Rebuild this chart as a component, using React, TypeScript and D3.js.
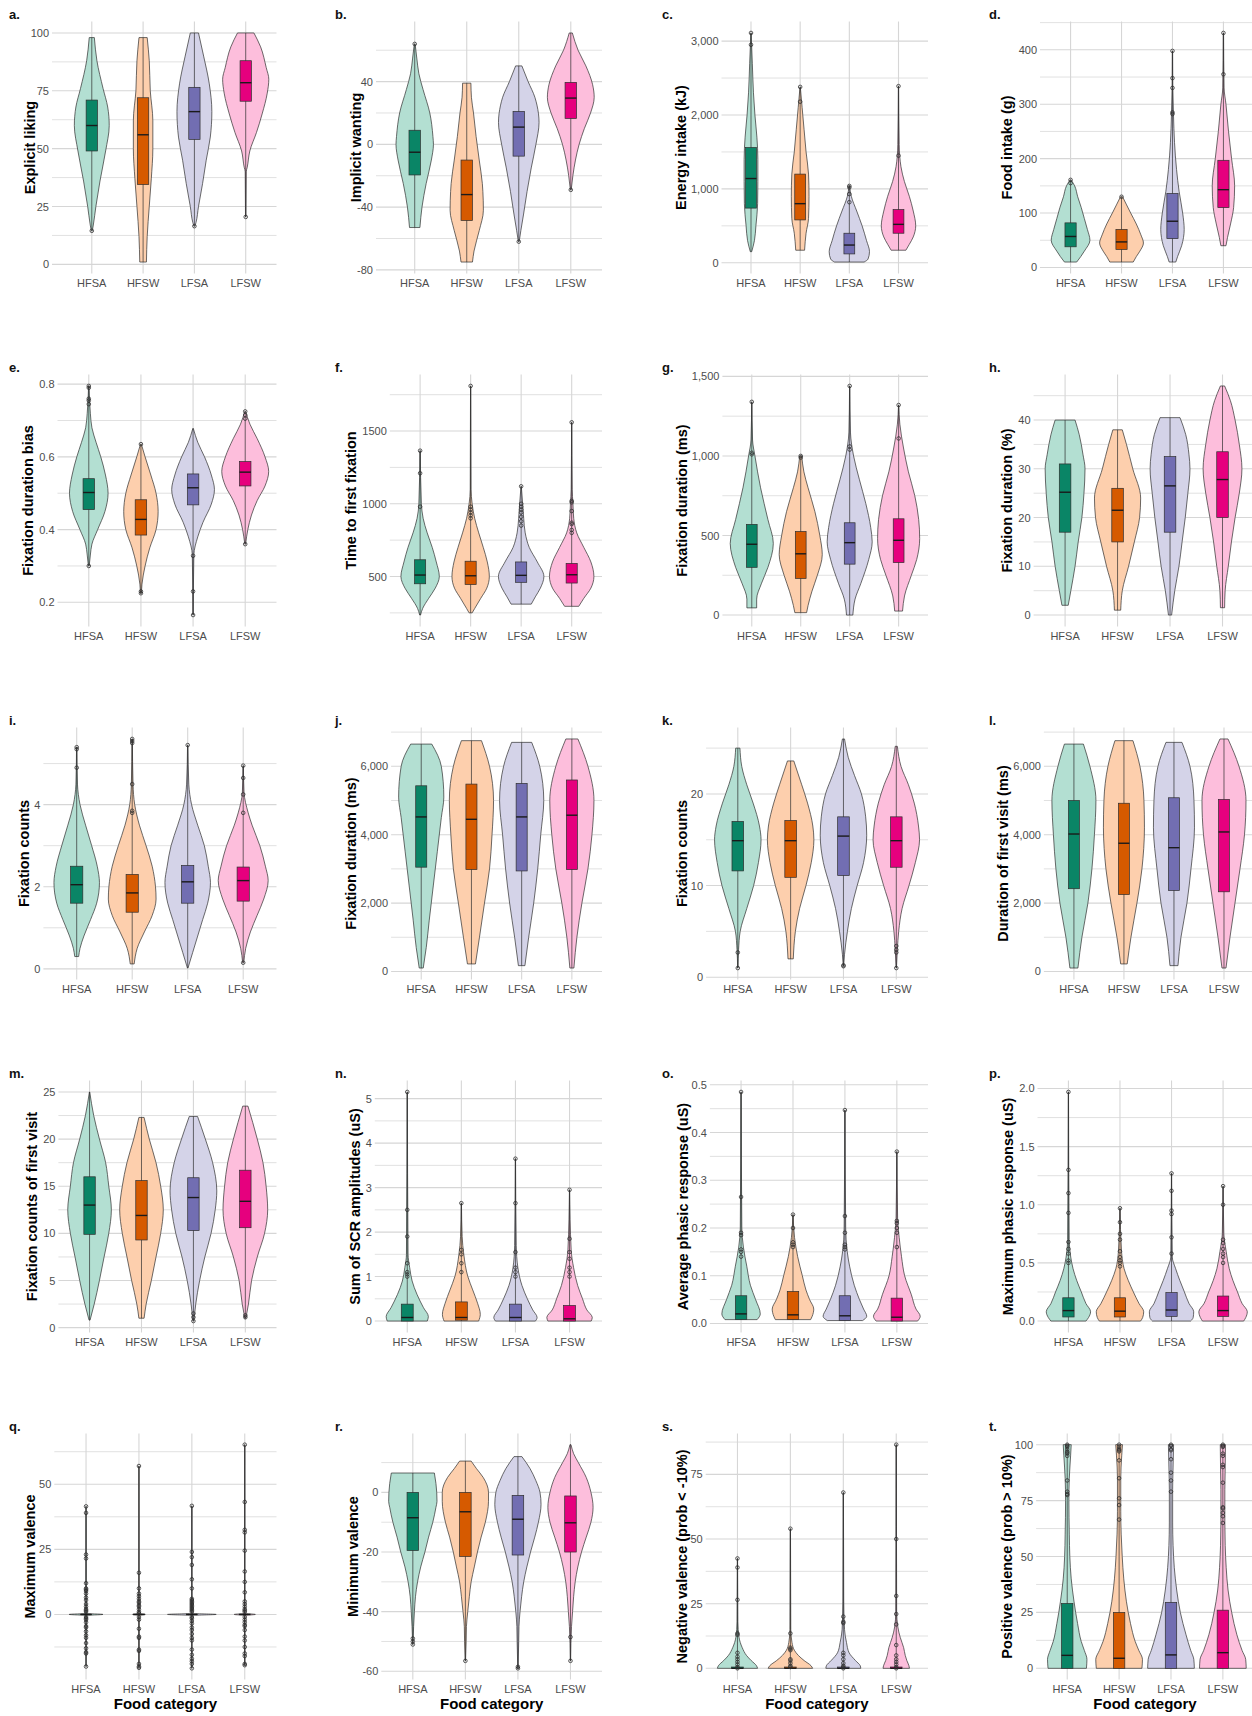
import React, { useRef, useEffect } from 'react';
import * as d3 from 'd3';

// ---- data ----
const categories = ['HFSA', 'HFSW', 'LFSA', 'LFSW'];
const violin_fill = ['#b3dfd2', '#fdcfad', '#d4d3e8', '#fdbedc'];
const box_fill = ['#0a8566', '#d65a00', '#726eb2', '#e6007e'];

const panel_ids = 'abcdefghijklmnopqrst'.split('');

const y_titles = {
    a: 'Explicit liking',
    b: 'Implicit wanting',
    c: 'Energy intake (kJ)',
    d: 'Food intake (g)',
    e: 'Fixation duration bias',
    f: 'Time to first fixation',
    g: 'Fixation duration (ms)',
    h: 'Fixation duration (%)',
    i: 'Fixation counts',
    j: 'Fixation duration (ms)',
    k: 'Fixation counts',
    l: 'Duration of first visit (ms)',
    m: 'Fixation counts of first visit',
    n: 'Sum of SCR amplitudes (uS)',
    o: 'Average phasic response (uS)',
    p: 'Maximum phasic response (uS)',
    q: 'Maximum valence',
    r: 'Minimum valence',
    s: 'Negative valence (prob < -10%)',
    t: 'Positive valence (prob > 10%)',
};

const y_ticks = {
    a: [0, 25, 50, 75, 100],
    b: [-80, -40, 0, 40],
    c: [0, 1000, 2000, 3000],
    d: [0, 100, 200, 300, 400],
    e: [0.2, 0.4, 0.6, 0.8],
    f: [500, 1000, 1500],
    g: [0, 500, 1000, 1500],
    h: [0, 10, 20, 30, 40],
    i: [0, 2, 4],
    j: [0, 2000, 4000, 6000],
    k: [0, 10, 20],
    l: [0, 2000, 4000, 6000],
    m: [0, 5, 10, 15, 20, 25],
    n: [0, 1, 2, 3, 4, 5],
    o: [0, 0.1, 0.2, 0.3, 0.4, 0.5],
    p: [0, 0.5, 1, 1.5, 2],
    q: [0, 25, 50],
    r: [-60, -40, -20, 0],
    s: [0, 25, 50, 75],
    t: [0, 25, 50, 75, 100],
};

const y_tick_labels = {
    a: ['0', '25', '50', '75', '100'],
    b: ['-80', '-40', '0', '40'],
    c: ['0', '1,000', '2,000', '3,000'],
    d: ['0', '100', '200', '300', '400'],
    e: ['0.2', '0.4', '0.6', '0.8'],
    f: ['500', '1000', '1500'],
    g: ['0', '500', '1,000', '1,500'],
    h: ['0', '10', '20', '30', '40'],
    i: ['0', '2', '4'],
    j: ['0', '2,000', '4,000', '6,000'],
    k: ['0', '10', '20'],
    l: ['0', '2,000', '4,000', '6,000'],
    m: ['0', '5', '10', '15', '20', '25'],
    n: ['0', '1', '2', '3', '4', '5'],
    o: ['0.0', '0.1', '0.2', '0.3', '0.4', '0.5'],
    p: ['0.0', '0.5', '1.0', '1.5', '2.0'],
    q: ['0', '25', '50'],
    r: ['-60', '-40', '-20', '0'],
    s: ['0', '25', '50', '75'],
    t: ['0', '25', '50', '75', '100'],
};

// violin outlines: [value, half width as a share of the category step], bottom to top
const violin_shapes = {
    a: [
        [[14.5, .01], [17, .03], [25, .08], [36, .16], [49, .27], [60, .34], [68, .31], [76, .22], [88, .1], [98, .05]],
        [[1, .065], [12, .08], [25, .12], [37, .16], [50, .19], [62, .19], [75, .14], [88, .12], [98, .08]],
        [[16.5, .01], [18, .03], [25, .08], [35, .16], [45, .23], [55, .31], [66, .34], [78, .29], [90, .18], [100, .08]],
        [[20.5, .004], [40, .01], [42, .03], [49, .08], [57, .21], [65, .32], [74, .42], [80, .45], [85, .4], [94, .29], [100, .16]],
    ],
    b: [
        [[-53, .1], [-40, .14], [-25, .22], [-10, .32], [0, .36], [5, .35], [20, .29], [35, .16], [45, .08], [55, .04], [64, .008]],
        [[-75, .11], [-68, .14], [-55, .24], [-42, .32], [-30, .31], [-25, .3], [-10, .24], [5, .18], [20, .13], [30, .09], [39, .08]],
        [[-62, .008], [-55, .04], [-45, .09], [-30, .16], [-15, .24], [0, .33], [14, .39], [25, .35], [30, .31], [40, .18], [50, .06]],
        [[-29, .008], [-20, .04], [-10, .09], [0, .16], [10, .26], [20, .38], [30, .45], [38, .42], [50, .29], [60, .14], [71, .03]],
    ],
    c: [
        [[150, .014], [300, .07], [500, .1], [800, .135], [1100, .14], [1400, .14], [1700, .12], [2000, .08], [2300, .05], [2700, .027], [3110, .003]],
        [[170, .09], [400, .12], [600, .17], [900, .18], [1200, .17], [1500, .12], [1800, .08], [2100, .04], [2380, .003]],
        [[10, .3], [50, .38], [150, .41], [300, .35], [500, .26], [700, .15], [900, .04], [1040, .005]],
        [[170, .15], [250, .22], [350, .3], [500, .35], [700, .3], [900, .22], [1100, .12], [1300, .05], [1600, .014], [2390, .003]],
    ],
    d: [
        [[10, .12], [20, .2], [30, .27], [50, .38], [70, .33], [90, .27], [110, .21], [130, .14], [150, .08], [161, .01]],
        [[10, .23], [20, .29], [30, .36], [45, .43], [60, .38], [80, .29], [100, .18], [115, .1], [130, .02]],
        [[10, .065], [20, .1], [40, .18], [70, .23], [100, .2], [140, .13], [180, .08], [230, .04], [280, .02], [330, .007], [398, .003]],
        [[40, .05], [55, .08], [80, .14], [110, .2], [150, .22], [200, .16], [250, .1], [300, .05], [330, .013], [431, .003]],
    ],
    e: [
        [[0.3, .008], [0.33, .03], [0.36, .06], [0.4, .17], [0.45, .31], [0.5, .37], [0.55, .32], [0.6, .23], [0.64, .14], [0.68, .06], [0.72, .03], [0.795, .004]],
        [[0.225, .008], [0.25, .02], [0.3, .08], [0.35, .17], [0.4, .29], [0.45, .33], [0.5, .29], [0.55, .19], [0.6, .08], [0.635, .008]],
        [[0.165, .003], [0.33, .015], [0.38, .09], [0.42, .19], [0.47, .35], [0.51, .41], [0.55, .35], [0.6, .22], [0.64, .09], [0.678, .005]],
        [[0.36, .008], [0.4, .05], [0.44, .12], [0.48, .23], [0.52, .38], [0.56, .45], [0.6, .38], [0.65, .23], [0.69, .09], [0.725, .008]],
    ],
    f: [
        [[235, .008], [280, .05], [350, .17], [420, .3], [500, .38], [600, .32], [700, .24], [800, .14], [900, .06], [1000, .025], [1365, .003]],
        [[250, .03], [280, .08], [350, .2], [420, .32], [500, .37], [600, .33], [700, .25], [800, .16], [900, .08], [1000, .03], [1100, .008], [1810, .002]],
        [[310, .2], [360, .28], [420, .38], [500, .45], [600, .32], [700, .16], [800, .08], [900, .05], [1000, .03], [1120, .003]],
        [[295, .14], [350, .24], [420, .38], [500, .44], [600, .38], [700, .24], [800, .1], [900, .04], [1000, .025], [1100, .01], [1560, .002]],
    ],
    g: [
        [[45, .1], [100, .1], [200, .2], [300, .33], [450, .44], [600, .33], [800, .18], [1000, .065], [1100, .016], [1340, .002]],
        [[15, .12], [60, .15], [150, .23], [250, .34], [380, .44], [500, .39], [650, .29], [800, .15], [900, .065], [1000, .02]],
        [[0, .065], [100, .11], [200, .23], [350, .39], [460, .46], [550, .43], [700, .33], [850, .2], [1000, .08], [1150, .016], [1440, .002]],
        [[25, .08], [120, .12], [250, .26], [350, .37], [480, .43], [600, .41], [750, .33], [900, .2], [1050, .1], [1200, .025], [1320, .002]],
    ],
    h: [
        [[2, .06], [5, .11], [10, .19], [15, .25], [20, .32], [25, .36], [30, .38], [33, .34], [37, .27], [40, .19]],
        [[1, .06], [5, .09], [10, .21], [15, .32], [20, .42], [24, .44], [30, .29], [35, .17], [38, .09]],
        [[0, .03], [5, .09], [10, .17], [15, .23], [20, .29], [25, .34], [30, .38], [33, .36], [37, .3], [40.5, .19]],
        [[1.5, .04], [5, .05], [10, .11], [15, .17], [20, .24], [25, .32], [30, .37], [35, .32], [40, .24], [44, .15], [47, .04]],
    ],
    i: [
        [[0.3, .035], [0.5, .06], [0.8, .13], [1.2, .25], [1.6, .36], [2.1, .41], [2.5, .37], [3, .27], [3.5, .16], [4, .06], [4.5, .014], [5.4, .003]],
        [[0.12, .035], [0.5, .09], [0.9, .22], [1.3, .36], [1.7, .43], [2, .42], [2.5, .36], [3, .25], [3.5, .13], [4, .045], [4.5, .015], [5.6, .003]],
        [[0.02, .005], [0.4, .09], [0.8, .18], [1.2, .27], [1.6, .36], [2.1, .41], [2.5, .37], [3, .3], [3.5, .18], [4, .07], [4.5, .02], [5.45, .003]],
        [[0.15, .01], [0.5, .045], [0.9, .13], [1.3, .25], [1.7, .37], [2.15, .45], [2.5, .4], [3, .3], [3.5, .16], [3.8, .09], [4.3, .015], [4.95, .003]],
    ],
    j: [
        [[100, .04], [700, .1], [1500, .16], [2500, .24], [3500, .32], [4500, .4], [5100, .45], [6000, .4], [6650, .21]],
        [[220, .08], [1000, .16], [2000, .26], [3000, .36], [4000, .41], [5000, .44], [6000, .36], [6750, .2]],
        [[170, .065], [1000, .14], [2000, .24], [3000, .32], [4000, .38], [5000, .44], [6000, .36], [6700, .2]],
        [[100, .04], [1000, .1], [2000, .2], [3000, .32], [4000, .4], [5000, .44], [6000, .32], [6800, .12]],
    ],
    k: [
        [[1, .003], [3, .015], [5, .045], [7.5, .17], [10, .3], [12.5, .39], [15, .44], [16.5, .41], [19, .29], [21, .17], [23, .075], [25, .04]],
        [[2, .05], [5, .09], [7.5, .17], [10, .29], [12.5, .39], [15, .44], [16.5, .42], [19, .32], [21, .21], [23.6, .06]],
        [[1.2, .003], [2.5, .02], [5, .075], [7.5, .15], [10, .26], [12.5, .38], [15.5, .44], [17.5, .42], [20, .34], [22, .21], [24, .09], [26, .02]],
        [[1, .003], [3, .02], [5, .045], [7.5, .11], [10, .24], [12.5, .36], [15, .44], [16.5, .42], [19, .34], [21, .23], [23, .09], [25.2, .02]],
    ],
    l: [
        [[100, .08], [1000, .16], [2000, .28], [3000, .36], [4000, .41], [5000, .44], [6000, .32], [6650, .19]],
        [[220, .065], [1000, .14], [2000, .26], [3000, .36], [4200, .41], [5000, .4], [6000, .32], [6750, .18]],
        [[170, .08], [1000, .14], [2000, .26], [3000, .34], [4200, .41], [5000, .4], [6000, .32], [6700, .16]],
        [[100, .04], [1000, .12], [2000, .22], [3000, .32], [4000, .41], [5000, .44], [6000, .3], [6800, .08]],
    ],
    m: [
        [[0.8, .01], [2.5, .09], [5, .19], [7.5, .28], [10, .37], [12.5, .42], [15, .37], [17.5, .31], [20, .19], [22.5, .08], [25, .003]],
        [[1, .05], [2.5, .09], [5, .19], [7.5, .28], [10, .37], [12.5, .42], [15, .37], [17.5, .28], [20, .15], [22.3, .05]],
        [[0.7, .01], [2.5, .045], [5, .12], [7.5, .22], [10, .34], [12.5, .42], [14.5, .45], [17.5, .37], [20, .23], [22.4, .08]],
        [[1, .01], [2.5, .06], [5, .12], [7.5, .23], [10, .37], [12.5, .43], [15, .4], [17.5, .34], [20, .23], [23.5, .05]],
    ],
    n: [
        [[0, .37], [0.1, .39], [0.3, .3], [0.6, .18], [0.9, .09], [1.2, .045], [1.5, .015], [5.15, .002]],
        [[0, .32], [0.15, .35], [0.4, .3], [0.7, .21], [1.0, .12], [1.5, .045], [1.9, .015], [2.65, .002]],
        [[0, .37], [0.08, .4], [0.25, .32], [0.5, .22], [0.8, .12], [1.2, .045], [1.7, .015], [3.65, .002]],
        [[0, .4], [0.08, .42], [0.25, .32], [0.5, .24], [0.8, .15], [1.2, .075], [1.6, .03], [2.95, .002]],
    ],
    o: [
        [[0.008, .31], [0.02, .37], [0.05, .28], [0.08, .18], [0.12, .11], [0.16, .045], [0.2, .015], [0.485, .002]],
        [[0.008, .34], [0.015, .37], [0.03, .4], [0.05, .32], [0.07, .25], [0.1, .18], [0.14, .09], [0.18, .03], [0.228, .002]],
        [[0.006, .34], [0.015, .42], [0.03, .36], [0.05, .28], [0.08, .18], [0.12, .09], [0.15, .045], [0.2, .015], [0.447, .002]],
        [[0.005, .4], [0.015, .45], [0.03, .37], [0.06, .28], [0.1, .15], [0.14, .09], [0.18, .045], [0.22, .015], [0.36, .002]],
    ],
    p: [
        [[0, .34], [0.03, .39], [0.08, .43], [0.15, .34], [0.25, .25], [0.35, .16], [0.45, .09], [0.55, .045], [0.7, .015], [1.97, .002]],
        [[0, .4], [0.03, .44], [0.08, .46], [0.15, .37], [0.25, .26], [0.35, .16], [0.45, .08], [0.6, .03], [0.97, .002]],
        [[0, .37], [0.03, .42], [0.08, .43], [0.15, .34], [0.25, .25], [0.35, .16], [0.45, .08], [0.55, .015], [1.27, .002]],
        [[0, .4], [0.03, .44], [0.08, .47], [0.15, .37], [0.25, .28], [0.35, .19], [0.45, .12], [0.6, .06], [0.75, .015], [1.16, .002]],
    ],
    q: [
        [[-20, .002], [-0.4, .004], [0, .32], [0.4, .004], [41.5, .002]],
        [[-20.5, .002], [-0.4, .004], [0, .12], [0.4, .004], [57, .002]],
        [[-20.7, .002], [-0.4, .004], [0, .46], [0.4, .004], [41.7, .002]],
        [[-19.5, .002], [-0.4, .004], [0, .2], [0.4, .004], [65.2, .002]],
    ],
    r: [
        [[-51, .003], [-45, .015], [-40, .03], [-35, .05], [-30, .09], [-25, .15], [-20, .23], [-15, .3], [-10, .38], [-5, .44], [-3, .46], [0, .455], [3, .44], [6.5, .41]],
        [[-56.5, .003], [-50, .015], [-45, .02], [-40, .045], [-35, .075], [-30, .11], [-25, .17], [-20, .23], [-15, .3], [-10, .38], [-3, .44], [0, .44], [5, .34], [8, .21], [10.5, .11]],
        [[-59, .003], [-50, .015], [-45, .02], [-40, .04], [-35, .07], [-30, .11], [-25, .17], [-20, .24], [-15, .32], [-10, .39], [-4, .44], [0, .42], [4, .34], [8, .23], [12, .075]],
        [[-56.5, .003], [-45, .02], [-40, .04], [-35, .06], [-30, .09], [-25, .14], [-20, .21], [-15, .3], [-10, .39], [-5, .43], [0, .39], [5, .3], [10, .15], [13, .06], [16, .01]],
    ],
    s: [
        [[0, .38], [1, .36], [3, .26], [5, .17], [8, .09], [12, .03], [18, .008], [42.5, .002]],
        [[0, .42], [1, .39], [3, .26], [5, .15], [7, .075], [10, .03], [15, .008], [54, .002]],
        [[0, .33], [1, .32], [3, .23], [6, .11], [10, .06], [15, .023], [26, .008], [68, .002]],
        [[0, .25], [1, .24], [3, .2], [5, .17], [8, .14], [12, .075], [16, .03], [22, .008], [55, .004], [86.5, .002]],
    ],
    t: [
        [[0, .37], [4, .38], [8, .33], [12, .27], [20, .2], [30, .13], [40, .077], [50, .05], [60, .04], [75, .032], [85, .04], [95, .065], [100, .077]],
        [[0, .44], [4, .45], [8, .38], [12, .31], [20, .22], [30, .14], [40, .09], [50, .06], [60, .04], [70, .032], [85, .032], [95, .05], [100, .065]],
        [[0, .45], [4, .44], [8, .38], [15, .29], [25, .18], [35, .11], [45, .064], [55, .04], [65, .032], [80, .032], [90, .04], [100, .05]],
        [[0, .45], [4, .44], [8, .37], [15, .27], [25, .17], [35, .1], [45, .064], [55, .045], [65, .038], [80, .038], [90, .045], [100, .05]],
    ],
};

// [whisker low, q1, median, q3, whisker high]
const box_stats = {
    a: [[14.5, 49, 60, 71, 98], [1, 34.5, 56, 72, 98], [16.5, 54, 66, 76.5, 100], [20.5, 70.5, 78.5, 88, 100]],
    b: [[-53, -19.5, -5, 9, 64], [-75, -48.5, -32, -10, 39], [-62, -7.5, 11, 21, 50], [-29, 16.5, 29.5, 39.5, 71]],
    c: [[150, 740, 1140, 1560, 3110], [170, 580, 800, 1200, 2380], [10, 120, 240, 400, 1040], [170, 400, 520, 720, 2390]],
    d: [[10, 38, 57, 82, 161], [10, 33, 47, 70, 130], [10, 53, 85, 136, 398], [40, 110, 143, 197, 431]],
    e: [[0.3, 0.455, 0.502, 0.54, 0.795], [0.225, 0.385, 0.428, 0.482, 0.635], [0.165, 0.468, 0.515, 0.553, 0.678], [0.36, 0.52, 0.558, 0.587, 0.725]],
    f: [[235, 450, 510, 615, 1365], [250, 445, 505, 605, 1810], [310, 460, 508, 600, 1120], [295, 455, 512, 590, 1560]],
    g: [[45, 300, 445, 570, 1340], [15, 230, 385, 525, 1000], [0, 320, 455, 580, 1440], [25, 330, 470, 605, 1320]],
    h: [[2, 17, 25.2, 31, 40], [1, 15, 21.5, 26, 38], [0, 17, 26.5, 32.5, 40.5], [1.5, 20, 27.8, 33.5, 47]],
    i: [[0.3, 1.6, 2.05, 2.5, 5.4], [0.12, 1.38, 1.85, 2.3, 5.6], [0.02, 1.6, 2.12, 2.52, 5.45], [0.15, 1.65, 2.15, 2.48, 4.95]],
    j: [[100, 3050, 4520, 5430, 6650], [220, 2980, 4450, 5480, 6750], [170, 2940, 4520, 5500, 6700], [100, 2980, 4570, 5600, 6800]],
    k: [[1, 11.6, 14.9, 17, 25], [2, 10.9, 14.9, 17.1, 23.6], [1.2, 11.1, 15.4, 17.5, 26], [1, 12, 14.9, 17.5, 25.2]],
    l: [[100, 2420, 4020, 5000, 6650], [220, 2250, 3750, 4920, 6750], [170, 2370, 3620, 5080, 6700], [100, 2330, 4080, 5030, 6800]],
    m: [[0.8, 9.9, 13, 16, 25], [1, 9.3, 11.9, 15.6, 22.3], [0.7, 10.3, 13.8, 15.9, 22.4], [1, 10.6, 13.4, 16.7, 23.5]],
    n: [[0, 0, 0.08, 0.38, 5.15], [0, 0.02, 0.08, 0.43, 2.65], [0, 0, 0.08, 0.38, 3.65], [0, 0, 0.05, 0.35, 2.95]],
    o: [[0.008, 0.008, 0.02, 0.058, 0.485], [0.008, 0.008, 0.018, 0.067, 0.228], [0.006, 0.006, 0.016, 0.058, 0.447], [0.005, 0.005, 0.013, 0.053, 0.36]],
    p: [[0, 0.035, 0.09, 0.2, 1.97], [0, 0.035, 0.085, 0.2, 0.97], [0, 0.04, 0.095, 0.245, 1.27], [0, 0.04, 0.09, 0.215, 1.16]],
    q: [[-20, 0, 0, 0, 41.5], [-20.5, 0, 0, 0, 57], [-20.7, 0, 0, 0, 41.7], [-19.5, 0, 0, 0, 65.2]],
    r: [[-51, -19.5, -8.5, 0, 6.5], [-56.5, -21.5, -6.5, 0, 10.5], [-59, -21, -9, -1, 12], [-56.5, -20, -10.2, -1.2, 16]],
    s: [[0, 0, 0, 0.5, 42.5], [0, 0, 0, 0.5, 54], [0, 0, 0, 0.5, 68], [0, 0, 0, 0.5, 86.5]],
    t: [[0, 0, 5.8, 29, 100], [0, 0, 4.5, 25, 100], [0, 0, 6, 29.5, 100], [0, 0, 7, 26, 100]],
};

const outlier_values = {
    a: [[14.5], [], [16.5], [20.5]],
    b: [[64], [], [-62], [-29]],
    c: [[3110, 2950], [2380, 2180], [1040, 1020, 930, 820], [2390, 1450]],
    d: [[161, 155], [130], [398, 348, 330, 285, 282], [431, 355]],
    e: [[0.3, 0.745, 0.755, 0.76, 0.79, 0.795], [0.635, 0.23, 0.225], [0.328, 0.23, 0.165], [0.725, 0.715, 0.705, 0.36]],
    f: [[1365, 1210, 980], [1810, 980, 960, 940, 920, 900], [1120, 1000, 980, 960, 940, 910, 880, 850], [1560, 1020, 1010, 950, 870, 860, 820, 800]],
    g: [[1340, 1020, 1010], [1000, 990], [1440, 1060, 1040], [1320, 1110]],
    h: [[], [], [], []],
    i: [[5.4, 5.35, 4.9], [5.6, 5.55, 5.5, 4.5, 3.85, 3.8], [5.45], [4.95, 4.65, 4.25, 3.8, 0.15]],
    j: [[], [], [], []],
    k: [[2.7, 1], [], [1.3, 1.2], [3.4, 3, 2.7, 1]],
    l: [[], [], [], []],
    m: [[], [], [1.5, 1.1, 0.7], [1.3, 1.1]],
    n: [[5.15, 2.5, 1.9, 1.3, 1.1, 1.05, 1.0], [2.65, 1.6, 1.5, 1.3, 1.1], [3.65, 2.65, 1.55, 1.2, 1.1, 1.0], [2.95, 1.85, 1.55, 1.4, 1.2, 1.1, 1.0]],
    o: [[0.485, 0.265, 0.19, 0.185, 0.155, 0.15, 0.14], [0.228, 0.2, 0.17, 0.165, 0.16], [0.447, 0.225, 0.19, 0.165, 0.16, 0.155], [0.36, 0.215, 0.21, 0.2, 0.19, 0.16]],
    p: [[1.97, 1.3, 1.1, 0.93, 0.68, 0.62, 0.58, 0.52, 0.5], [0.97, 0.85, 0.75, 0.7, 0.6, 0.55, 0.52, 0.5, 0.47], [1.27, 1.12, 0.95, 0.92, 0.72, 0.58], [1.16, 1.0, 0.7, 0.67, 0.62, 0.58, 0.55, 0.5]],
    q: [
        [41.5, 39, 23, 21.5, 12, 10, 9.5, 9, 8, 6.5, 5.5, 4, 3, 2, 1.5, 1, -1, -1.5, -2, -3, -4.5, -5, -6.5, -8, -9, -11, -13, -14.5, -15, -20],
        [57, 16, 10, 8, 7, 6, 5, 4.5, 3.5, 3, 2, 1, 0.5, -1, -2, -5.5, -8.5, -9, -13.5, -14, -19, -20, -20.5],
        [41.7, 24, 22, 19, 13.5, 10, 6, 5.5, 5, 4.5, 4, 3.5, 3, 2.5, 2, 1.5, 1, -1, -1.5, -2.5, -3.5, -5, -6, -7.5, -9, -10, -13.5, -15.5, -17, -18, -19, -20.7],
        [65.2, 43.2, 32.5, 31.5, 24.5, 16.5, 12.5, 8.5, 5, 4, 3, 2, 1.5, 1, -1, -2, -3, -4, -4.5, -6, -8.5, -10, -12.5, -15, -16, -19, -19.5],
    ],
    r: [[-49, -50, -51], [-56.5], [-58.5, -59], [-48.5, -56.5]],
    s: [
        [42.5, 39, 26.5, 13.5, 13, 6, 4.5, 3.5, 2.5, 1.5, 0.5, 0],
        [54, 13.5, 8, 7.5, 7, 3.5, 3, 2, 1, 0.5],
        [68, 20, 18, 17.5, 6, 5, 3.5, 2, 1, 0.5, 0],
        [86.5, 50, 28, 21, 17, 9, 5, 3.5, 2.5, 1.5, 0.5, 0],
    ],
    t: [
        [100, 99.5, 99, 98, 97, 96.5, 96, 95, 84, 79, 78, 77.5],
        [100, 99, 98, 97.5, 97, 93, 85, 76, 73, 66.5],
        [100, 99.5, 98, 97.5, 93.5, 87.5, 84, 79],
        [100, 99.5, 99, 96, 95, 91, 90, 83, 72, 71.5, 69.5, 68, 65],
    ],
};

// ---- page layout ----
const width = 1252;
const height = 1716;
const row_top = 21.5;
const row_step = 353;
const plot_height = [252, 252, 252, 252, 246];
const col_right = [276.5, 602, 928, 1254];
const col_label_x = [9, 335, 662, 989];
const band_left = [61, 383.5, 721.5, 1040, 57.5, 389.8, 722.4, 1033.6, 43.4, 391.1, 706.1, 1043.9, 58.4, 374.8, 709.9, 1037.5, 54.3, 381.3, 705.7, 1036.1];
const grid_left = [52, 376, 721.5, 1040, 57.5, 389.8, 722.4, 1033.6, 43.4, 391.1, 706.1, 1043.9, 58.4, 374.8, 709.9, 1037.5, 54.3, 381.3, 705.7, 1036.1];
const title_x = [30, 355.7, 681, 1007.3, 27.9, 351.3, 681.9, 1007.2, 24, 351.3, 681.9, 1003.2, 32, 355.3, 682.7, 1007.7, 30, 352.9, 682.3, 1007.3];

const font = "'Liberation Sans', Arial, Helvetica, sans-serif";
const grid_colour = '#d6d6d6';
const text_grey = '#4d4d4d';

export default function App() {
    const svg_ref = useRef(null);

    useEffect(() => {
        document.body.style.margin = '0';
        const svg = d3.select(svg_ref.current);
        svg.selectAll('*').remove();
        svg.append('rect').attr('width', width).attr('height', height).attr('fill', '#ffffff');

        panel_ids.forEach((id, p) => {
            const row = Math.floor(p / 4);
            const col = p % 4;
            const top = row_top + row * row_step;
            const bottom = top + plot_height[row];
            const right = col_right[col];
            const g_left = grid_left[p];

            const x = d3.scalePoint().domain(categories).range([band_left[p], right]).padding(0.6);
            const step = x.step();

            const values = violin_shapes[id]
                .flatMap((k) => k.map((d) => d[0]))
                .concat(outlier_values[id].flat(), box_stats[id].flat());
            const [lo, hi] = d3.extent(values);
            const pad = (hi - lo) * 0.05;
            const y = d3.scaleLinear([lo - pad, hi + pad], [bottom, top]);

            const g = svg.append('g');

            // grid
            const ticks = y_ticks[id];
            const half = (ticks[1] - ticks[0]) / 2;
            const minor = [ticks[0] - half, ...d3.pairs(ticks).map(([a, b]) => (a + b) / 2), ticks[ticks.length - 1] + half].filter(
                (v) => v >= lo - pad && v <= hi + pad
            );
            g.append('g')
                .selectAll('line')
                .data(minor)
                .join('line')
                .attr('x1', g_left)
                .attr('x2', right)
                .attr('y1', (d) => y(d))
                .attr('y2', (d) => y(d))
                .attr('stroke', '#dedede')
                .attr('stroke-width', 0.9);
            g.append('g')
                .selectAll('line')
                .data(ticks)
                .join('line')
                .attr('x1', g_left)
                .attr('x2', right)
                .attr('y1', (d) => y(d))
                .attr('y2', (d) => y(d))
                .attr('stroke', grid_colour)
                .attr('stroke-width', 1.1);
            g.append('g')
                .selectAll('line')
                .data(categories)
                .join('line')
                .attr('x1', (d) => x(d))
                .attr('x2', (d) => x(d))
                .attr('y1', top)
                .attr('y2', bottom)
                .attr('stroke', grid_colour)
                .attr('stroke-width', 1.1);

            // y tick labels
            g.append('g')
                .selectAll('text')
                .data(ticks)
                .join('text')
                .attr('x', g_left - 3)
                .attr('y', (d) => y(d) + 4)
                .attr('text-anchor', 'end')
                .attr('font-family', font)
                .attr('font-size', 11)
                .attr('fill', text_grey)
                .text((_, i) => y_tick_labels[id][i]);

            // category labels
            g.append('g')
                .selectAll('text')
                .data(categories)
                .join('text')
                .attr('x', (d) => x(d))
                .attr('y', bottom + 13)
                .attr('text-anchor', 'middle')
                .attr('font-family', font)
                .attr('font-size', 11)
                .attr('fill', text_grey)
                .text((d) => d);

            // violins, boxes, outliers
            categories.forEach((cat, c) => {
                const cx = x(cat);
                const area = d3
                    .area()
                    .y((d) => y(d[0]))
                    .x0((d) => cx - d[1] * step)
                    .x1((d) => cx + d[1] * step)
                    .curve(d3.curveMonotoneY);
                g.append('path')
                    .attr('d', area(violin_shapes[id][c]))
                    .attr('fill', violin_fill[c])
                    .attr('stroke', '#2e2e2e')
                    .attr('stroke-width', 0.7);

                const [w_lo, q1, med, q3, w_hi] = box_stats[id][c];
                const bw = step * 0.22;
                g.append('line')
                    .attr('x1', cx)
                    .attr('x2', cx)
                    .attr('y1', y(w_lo))
                    .attr('y2', y(w_hi))
                    .attr('stroke', '#2e2e2e')
                    .attr('stroke-width', 0.7);
                g.append('rect')
                    .attr('x', cx - bw / 2)
                    .attr('width', bw)
                    .attr('y', y(q3))
                    .attr('height', Math.max(0, y(q1) - y(q3)))
                    .attr('fill', box_fill[c])
                    .attr('stroke', '#2e2e2e')
                    .attr('stroke-width', 0.7);
                g.append('line')
                    .attr('x1', cx - bw / 2)
                    .attr('x2', cx + bw / 2)
                    .attr('y1', y(med))
                    .attr('y2', y(med))
                    .attr('stroke', '#1a1a1a')
                    .attr('stroke-width', 1.4);

                g.append('g')
                    .selectAll('circle')
                    .data(outlier_values[id][c])
                    .join('circle')
                    .attr('cx', cx)
                    .attr('cy', (d) => y(d))
                    .attr('r', 1.8)
                    .attr('fill', 'none')
                    .attr('stroke', '#2e2e2e')
                    .attr('stroke-width', 0.8);
            });

            // panel letter
            g.append('text')
                .attr('x', col_label_x[col])
                .attr('y', top - 3)
                .attr('font-family', font)
                .attr('font-size', 13)
                .attr('font-weight', 'bold')
                .attr('fill', '#111')
                .text(id + '.');

            // y title
            const cy = (top + bottom) / 2;
            g.append('text')
                .attr('transform', `translate(${title_x[p] + 5},${cy}) rotate(-90)`)
                .attr('text-anchor', 'middle')
                .attr('font-family', font)
                .attr('font-size', 14.5)
                .attr('font-weight', 'bold')
                .attr('fill', '#000')
                .text(y_titles[id]);

            // x title on the last row
            if (row === 4) {
                g.append('text')
                    .attr('x', (band_left[p] + right) / 2)
                    .attr('y', bottom + 29.5)
                    .attr('text-anchor', 'middle')
                    .attr('font-family', font)
                    .attr('font-size', 15)
                    .attr('font-weight', 'bold')
                    .attr('fill', '#000')
                    .text('Food category');
            }
        });
    }, []);

    return <svg ref={svg_ref} width={width} height={height} style={{ display: 'block' }}></svg>;
}
